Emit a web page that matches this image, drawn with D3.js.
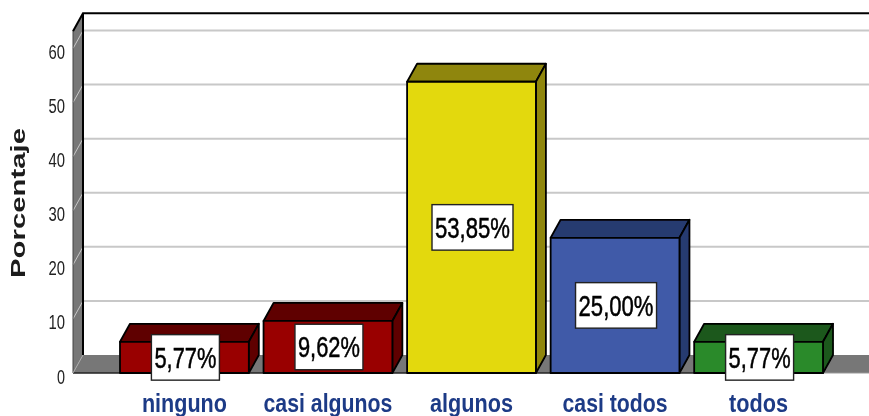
<!DOCTYPE html>
<html><head><meta charset="utf-8">
<script src="https://cdn.jsdelivr.net/npm/d3@7/dist/d3.min.js"></script>
<style>html,body{margin:0;padding:0;background:#fff;overflow:hidden}svg{display:block}text{font-family:"Liberation Sans",Arial,sans-serif}</style>
</head><body><svg id="c" width="869" height="416"></svg>
<script>
const categories = ["ninguno","casi algunos","algunos","casi todos","todos"];
const percentages = [5.77,9.62,53.85,25.00,5.77];
const valueLabels = ["5,77%","9,62%","53,85%","25,00%","5,77%"];
const frontColors = ["#990000","#990000","#e3d90f","#3f5aa8","#2a8a2a"];
const sideColors = ["#5f0000","#5f0000","#8f860b","#273a70","#1b591b"];
const yTicks = [0,10,20,30,40,50,60];
const categoryLabelWidths = [85,129,83,105,59];

const W=869,H=416, dx=10, dy=-18;
const svg=d3.select("#c");
const defs=svg.append("defs");
defs.append("filter").attr("id","soft").attr("filterUnits","userSpaceOnUse")
  .attr("x",0).attr("y",0).attr("width",W).attr("height",H)
  .append("feGaussianBlur").attr("stdDeviation",0.7);
const g=svg.append("g").attr("filter","url(#soft)");
g.append("rect").attr("width",W).attr("height",H).attr("fill","#fff");
const y=d3.scaleLinear().domain([0,60]).range([373,48.5]);
const x=d3.scaleBand().domain(categories).range([120,823]).paddingInner(0.1026).paddingOuter(0);
const wallL=73, wallR=wallL+dx, yMax=63.2;

// wall and floor
g.append("path").attr("d",d3.line()([[wallL,y(yMax)],[wallR,y(yMax)+dy],[wallR,y(0)+dy],[wallL,y(0)]])+"Z").attr("fill","#777");
g.append("path").attr("d",d3.line()([[wallL,y(0)],[wallR,y(0)+dy],[W,y(0)+dy],[W,y(0)]])+"Z").attr("fill","#777");
// gridlines
yTicks.filter(d=>d>0).forEach(t=>{
  g.append("line").attr("x1",wallR).attr("x2",W).attr("y1",y(t)+dy).attr("y2",y(t)+dy).attr("stroke","#c8c8c8").attr("stroke-width",2);
  g.append("line").attr("x1",wallL).attr("x2",wallR).attr("y1",y(t)).attr("y2",y(t)+dy).attr("stroke","#c8c8c8").attr("stroke-width",1);
});
// frame
g.append("path").attr("d",d3.line()([[wallL,y(yMax)],[wallR,y(yMax)+dy],[W,y(yMax)+dy]])).attr("fill","none").attr("stroke","#000").attr("stroke-width",2);
g.append("line").attr("x1",wallR).attr("x2",wallR).attr("y1",y(yMax)+dy).attr("y2",y(0)+dy).attr("stroke","#000").attr("stroke-width",2);
g.append("line").attr("x1",wallL).attr("x2",wallL).attr("y1",y(yMax)).attr("y2",y(0)).attr("stroke","#444").attr("stroke-width",1);
g.append("line").attr("x1",wallL).attr("x2",x.range()[1]).attr("y1",y(0)).attr("y2",y(0)).attr("stroke","#222").attr("stroke-width",1.4);
g.append("line").attr("x1",x.range()[1]).attr("x2",W).attr("y1",y(0)).attr("y2",y(0)).attr("stroke","#999").attr("stroke-width",1);
g.append("line").attr("x1",wallL).attr("x2",wallR).attr("y1",y(0)).attr("y2",y(0)+dy).attr("stroke","#aaa").attr("stroke-width",1);

// bars
categories.forEach((c,i)=>{
  const x0=x(c), x1=x0+x.bandwidth(), yt=y(percentages[i]), yb=y(0);
  const b=g.append("g").attr("stroke","#000").attr("stroke-width",1.8).attr("stroke-linejoin","round");
  b.append("path").attr("d",d3.line()([[x0,yt],[x0+dx,yt+dy],[x1+dx,yt+dy],[x1,yt]])+"Z").attr("fill",sideColors[i]);
  b.append("path").attr("d",d3.line()([[x1,yt],[x1+dx,yt+dy],[x1+dx,yb+dy],[x1,yb]])+"Z").attr("fill",sideColors[i]);
  b.append("rect").attr("x",x0).attr("y",yt).attr("width",x.bandwidth()).attr("height",yb-yt).attr("fill",frontColors[i]);
});

// y ticks
g.selectAll(".yt").data(yTicks).join("text").attr("class","yt")
  .attr("x",65).attr("y",d=>y(d)+10.5).attr("text-anchor","end").attr("font-size",20).attr("fill","#222")
  .attr("textLength",d=>d===0?8:16.5).attr("lengthAdjust","spacingAndGlyphs").text(d=>d);

// axis title
g.append("text").attr("transform","translate(25,203) rotate(-90)").attr("text-anchor","middle")
  .attr("font-size",19.5).attr("font-weight","bold").attr("fill","#1a1a1a")
  .attr("textLength",150).attr("lengthAdjust","spacingAndGlyphs").text("Porcentaje");

// category labels
categories.forEach((c,i)=>{
  g.append("text").attr("x",x(c)+x.bandwidth()/2).attr("y",412).attr("text-anchor","middle")
   .attr("font-size",25).attr("font-weight","bold").attr("fill","#1f3a86")
   .attr("textLength",categoryLabelWidths[i]).attr("lengthAdjust","spacingAndGlyphs").text(c);
});

// value labels
categories.forEach((c,i)=>{
  const cx=x(c)+x.bandwidth()/2+1, cy=Math.min(y(percentages[i]/2),358.5);
  const w=valueLabels[i].length>5?81:68, h=45.5;
  g.append("rect").attr("x",cx-w/2).attr("y",cy-h/2).attr("width",w).attr("height",h)
   .attr("fill","#fff").attr("stroke","#222").attr("stroke-width",1.4);
  g.append("text").attr("x",cx).attr("y",cy+10.5).attr("text-anchor","middle")
   .attr("font-size",29).attr("fill","#000").attr("stroke","#000").attr("stroke-width",0.5)
   .attr("textLength",w-6).attr("lengthAdjust","spacingAndGlyphs").text(valueLabels[i]);
});
</script></body></html>
